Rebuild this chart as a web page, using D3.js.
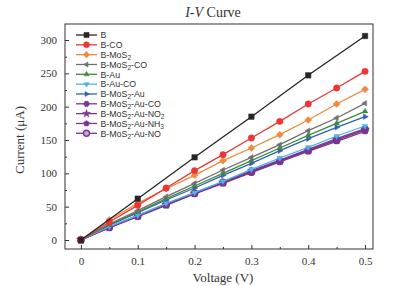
<!DOCTYPE html>
<html>
<head>
<meta charset="utf-8">
<script src="https://cdn.jsdelivr.net/npm/d3@7"></script>
<style>
  body { margin: 0; background: #fff; }
  svg { display: block; }
  .tick text { font-family: "Liberation Serif", "Times New Roman", serif; font-size: 11px; fill: #333; }
</style>
</head>
<body>
<svg id="chart" width="409" height="286"></svg>
<script>
// voltages for every series except B
const voltage = [0, 0.05, 0.1, 0.15, 0.2, 0.25, 0.3, 0.35, 0.4, 0.45, 0.5];
const voltageB = [0, 0.1, 0.2, 0.3, 0.4, 0.5];

const seriesNames = ['B', 'B-CO', 'B-MoS2', 'B-MoS2-CO', 'B-Au', 'B-Au-CO', 'B-MoS2-Au',
  'B-MoS2-Au-CO', 'B-MoS2-Au-NO2', 'B-MoS2-Au-NH3', 'B-MoS2-Au-NO'];

const currentB = [0, 62, 124, 185, 247, 306];
const currentBCO = [0, 27, 52, 78, 104, 128, 153, 178, 204, 228, 253];
const currentBMoS2 = [0, 30, 55, 77, 97, 119, 138, 158, 180, 204, 226];
const currentBMoS2CO = [0, 24, 44, 65, 85, 105, 124, 143, 164, 183, 205];
const currentBAu = [0, 23, 42, 62, 81, 100, 119, 138, 157, 175, 193];
const currentBAuCO = [0, 20, 37, 55, 71, 88, 106, 123, 139, 156, 171];
const currentBMoS2Au = [0, 22, 41, 60, 78, 97, 115, 134, 152, 169, 185];
const currentBMoS2AuCO = [0, 19, 37, 54, 71, 87, 104, 120, 136, 152, 167];
const currentBMoS2AuNO2 = [0, 19, 36, 53, 70, 86, 103, 119, 135, 150, 165];
const currentBMoS2AuNH3 = [0, 18, 35, 52, 69, 85, 101, 117, 133, 148, 163];
const currentBMoS2AuNO = [0, 19, 36, 53, 70, 86, 102, 118, 134, 150, 166];

const xTicks = [0, 0.1, 0.2, 0.3, 0.4, 0.5];
const yTicks = [0, 50, 100, 150, 200, 250, 300];

const colors = ['#262626', '#ee3535', '#f08a3e', '#707070', '#3c8a3c', '#4db3ea', '#3060b8',
  '#7b3590', '#7b3590', '#7b3590', '#7b3590'];
const shapes = ['square', 'circle', 'diamond', 'triLeft', 'triUp', 'triDown', 'triRight',
  'hexagon', 'star', 'pentagon', 'ring'];

const series = seriesNames.map((name, i) => {
  const xs = i === 0 ? voltageB : voltage;
  const ys = [currentB, currentBCO, currentBMoS2, currentBMoS2CO, currentBAu, currentBAuCO,
    currentBMoS2Au, currentBMoS2AuCO, currentBMoS2AuNO2, currentBMoS2AuNH3, currentBMoS2AuNO][i];
  return { name, color: colors[i], shape: shapes[i], values: xs.map((v, j) => ({ v, c: ys[j] })) };
});

const svg = d3.select('#chart');
const margin = { left: 65, right: 36, top: 24, bottom: 37 };
const w = 409 - margin.left - margin.right;
const h = 286 - margin.top - margin.bottom;

const x = d3.scaleLinear().domain([-0.028, 0.514]).range([0, w]);
const y = d3.scaleLinear().domain([-13.5, 324]).range([h, 0]);

const g = svg.append('g').attr('transform', `translate(${margin.left},${margin.top})`);

// marker path generator
function markerPath(shape, r) {
  const poly = pts => 'M' + pts.map(p => p.join(',')).join('L') + 'Z';
  const ngon = (n, rot) => poly(d3.range(n).map(k => {
    const a = rot + k * 2 * Math.PI / n;
    return [r * Math.cos(a), r * Math.sin(a)];
  }));
  switch (shape) {
    case 'square': return poly([[-r * 0.85, -r * 0.85], [r * 0.85, -r * 0.85], [r * 0.85, r * 0.85], [-r * 0.85, r * 0.85]]);
    case 'circle': return d3.symbol(d3.symbolCircle, Math.PI * r * r)();
    case 'diamond': return poly([[0, -r * 1.1], [r * 1.1, 0], [0, r * 1.1], [-r * 1.1, 0]]);
    case 'triUp': return ngon(3, -Math.PI / 2);
    case 'triDown': return ngon(3, Math.PI / 2);
    case 'triLeft': return ngon(3, Math.PI);
    case 'triRight': return ngon(3, 0);
    case 'hexagon': return ngon(6, 0);
    case 'pentagon': return ngon(5, -Math.PI / 2);
    case 'star': return d3.symbol(d3.symbolStar, r * r * 2.2)();
    case 'ring': return d3.symbol(d3.symbolCircle, Math.PI * r * r)();
  }
}

// frame
g.append('rect').attr('width', w).attr('height', h)
  .attr('fill', 'none').attr('stroke', '#333').attr('stroke-width', 1);

// axes (ticks pointing inward)
const xAxis = g.append('g').attr('transform', `translate(0,${h})`)
  .call(d3.axisBottom(x).tickValues(xTicks).tickSize(-4).tickPadding(8).tickFormat(d => d === 0 ? '0' : d3.format('.1f')(d)));
xAxis.select('.domain').remove();
g.append('g').attr('transform', `translate(0,${h})`)
  .call(d3.axisBottom(x).tickValues(d3.range(0.05, 0.5, 0.1)).tickSize(-2).tickFormat(''))
  .select('.domain').remove();

const yAxis = g.append('g')
  .call(d3.axisLeft(y).tickValues(yTicks).tickSize(-4).tickPadding(8));
yAxis.select('.domain').remove();
g.append('g')
  .call(d3.axisLeft(y).tickValues(d3.range(25, 325, 50)).tickSize(-2).tickFormat(''))
  .select('.domain').remove();
g.selectAll('.tick line').attr('stroke', '#333');

// lines and markers, drawn bottom series first
const line = d3.line().x(d => x(d.v)).y(d => y(d.c));
series.slice().reverse().forEach(s => {
  g.append('path').datum(s.values)
    .attr('d', line).attr('fill', 'none')
    .attr('stroke', s.color).attr('stroke-width', 1.3);
  g.selectAll(null).data(s.values).enter().append('path')
    .attr('transform', d => `translate(${x(d.v)},${y(d.c)})`)
    .attr('d', markerPath(s.shape, 3.2))
    .attr('fill', s.shape === 'ring' ? '#c9a6d6' : s.color)
    .attr('stroke', s.color).attr('stroke-width', s.shape === 'ring' ? 1.4 : 0.5);
});

// legend
const legend = g.append('g').attr('transform', 'translate(11,11)');
series.forEach((s, i) => {
  const row = legend.append('g').attr('transform', `translate(0,${i * 9.83})`);
  row.append('line').attr('x1', 0).attr('x2', 21).attr('stroke', s.color).attr('stroke-width', 1.3);
  row.append('path').attr('transform', 'translate(10.5,0)')
    .attr('d', markerPath(s.shape, 3))
    .attr('fill', s.shape === 'ring' ? '#c9a6d6' : s.color)
    .attr('stroke', s.color).attr('stroke-width', s.shape === 'ring' ? 1.4 : 0.5);
  const t = row.append('text').attr('x', 24.5).attr('y', 3.2)
    .attr('font-family', '"Liberation Sans", Arial, sans-serif').attr('font-size', 8.8).attr('fill', '#333');
  const m = s.name.match(/^(.*?MoS)2(.*?)$/);
  if (m) {
    t.append('tspan').text(m[1]);
    t.append('tspan').attr('dy', 2.2).attr('font-size', 6.5).text('2');
    let rest = m[2];
    const sub = rest.match(/^(.*?)(NO|NH)([23])$/);
    if (sub) {
      t.append('tspan').attr('dy', -2.2).text(sub[1] + sub[2]);
      t.append('tspan').attr('dy', 2.2).attr('font-size', 6.5).text(sub[3]);
    } else {
      t.append('tspan').attr('dy', -2.2).text(rest);
    }
  } else {
    t.text(s.name);
  }
});

// title and axis labels
const title = svg.append('text').attr('x', 213).attr('y', 17).attr('text-anchor', 'middle')
  .attr('font-family', '"Liberation Serif", "Times New Roman", serif').attr('font-size', 14).attr('fill', '#333');
title.append('tspan').attr('font-style', 'italic').text('I-V');
title.append('tspan').text(' Curve');

svg.append('text').attr('x', margin.left + x(0.25)).attr('y', 282).attr('text-anchor', 'middle')
  .attr('font-family', '"Liberation Serif", "Times New Roman", serif').attr('font-size', 13).attr('fill', '#333')
  .text('Voltage (V)');

svg.append('text').attr('transform', 'translate(24,140) rotate(-90)')
  .attr('text-anchor', 'middle')
  .attr('font-family', '"Liberation Serif", "Times New Roman", serif').attr('font-size', 13).attr('fill', '#333')
  .text('Current (μA)');
</script>
</body>
</html>
